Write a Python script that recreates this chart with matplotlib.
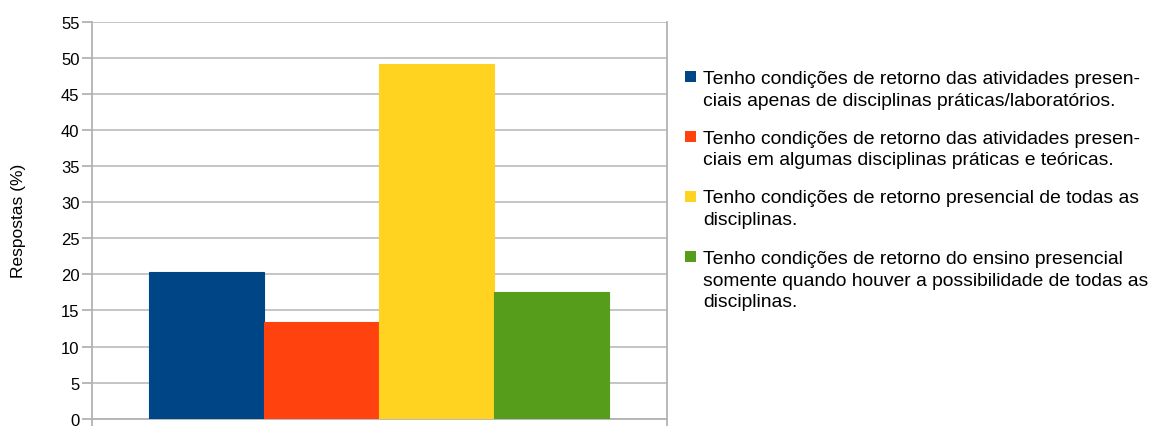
import matplotlib.pyplot as plt
from matplotlib.patches import Rectangle

plt.rcParams['font.family'] = ['Liberation Sans', 'DejaVu Sans']

labels = [
    "Tenho condições de retorno das atividades presen-\nciais apenas de disciplinas práticas/laboratórios.",
    "Tenho condições de retorno das atividades presen-\nciais em algumas disciplinas práticas e teóricas.",
    "Tenho condições de retorno presencial de todas as\ndisciplinas.",
    "Tenho condições de retorno do ensino presencial\nsomente quando houver a possibilidade de todas as\ndisciplinas.",
]
values = [20.3, 13.4, 49.2, 17.5]
colors = ['#004586', '#ff420e', '#ffd320', '#579d1c']
yticks = list(range(0, 56, 5))

W, H = 1150, 427
fig = plt.figure(figsize=(W / 100, H / 100), dpi=100)
ax = fig.add_axes([0.080, 0.0171, 0.4997, 0.9297])

bar_w = 0.2
n = len(values)
for i, (v, c) in enumerate(zip(values, colors)):
    x = (i - (n - 1) / 2) * bar_w
    ax.bar(x, v, width=bar_w, color=c, edgecolor=c, linewidth=0.8, zorder=3)

ax.set_xlim(-0.5, 0.5)
ax.set_ylim(0, 55)
ax.set_yticks(yticks)
ax.set_xticks([-0.5, 0.5])
ax.set_xticklabels([])
ax.grid(axis='y', color='#c0c0c0', linewidth=1.3, zorder=0)
for s in ['left', 'right', 'bottom', 'top']:
    ax.spines[s].set_color('#b3b3b3')
    ax.spines[s].set_linewidth(1.3)
ax.spines['top'].set_visible(False)
ax.tick_params(axis='y', length=7, width=1.3, color='#b3b3b3', labelsize=12, pad=2)
ax.tick_params(axis='x', length=5, width=1.3, color='#b3b3b3')
ax.set_ylabel("Respostas (%)", fontsize=12.5, labelpad=25)

# legend drawn by hand so the squares sit on the first line of each entry
line_px = 22
gap_px = 16
y = 77  # centre of first legend line, in pixels from the top
for lab, c in zip(labels, colors):
    fig.patches.append(Rectangle((685 / W, (H - y - 5.5) / H), 11 / W, 11 / H,
                                 transform=fig.transFigure, facecolor=c,
                                 edgecolor='none'))
    nlines = lab.count('\n') + 1
    for k, part in enumerate(lab.split('\n')):
        fig.text(703 / W, (H - y - k * line_px) / H, part, fontsize=13.9,
                 va='center_baseline', ha='left', color='#000000')
    y += nlines * line_px + gap_px

fig.savefig('out.png', dpi=100)
